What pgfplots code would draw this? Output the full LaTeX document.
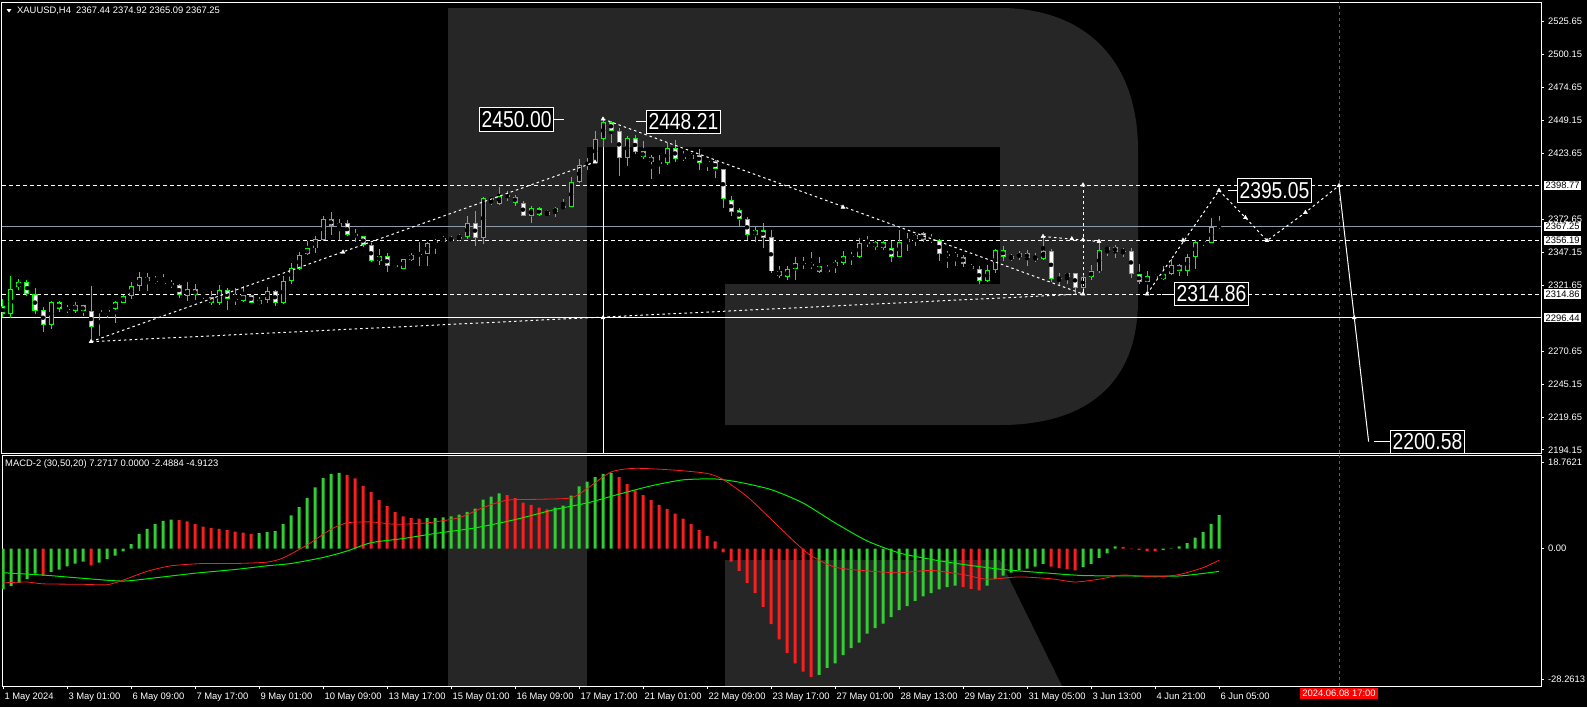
\documentclass[border=0pt]{standalone}
\usepackage{graphicx}
\usepackage{pgfplots}
\pgfplotsset{compat=1.18}
\usepackage{pgfplotstable}
\usepackage{fontspec}
\setmainfont{Liberation Sans}

\definecolor{candle}{RGB}{0,255,0}
\definecolor{histgreen}{RGB}{50,205,50}
\definecolor{histred}{RGB}{250,30,30}
\definecolor{logo}{RGB}{38,38,38}
\definecolor{bidline}{RGB}{140,155,170}
\definecolor{sigline}{RGB}{0,235,0}

\newcommand{\axfont}{\fontsize{9.4}{10.5}\selectfont}
\newcommand{\bigfont}{\fontsize{23}{24}\selectfont}

% XAUUSD H4 bars, 1 May - 6 Jun 2024
\pgfplotstableread{
i o h l c
0 2305.3 2310.9 2297.0 2299.3
1 2299.3 2329.0 2296.0 2318.7
2 2320.0 2326.4 2318.1 2324.1
3 2324.1 2325.4 2313.0 2314.8
4 2314.8 2319.4 2299.3 2301.6
5 2302.4 2304.7 2285.1 2290.6
6 2290.6 2309.1 2287.7 2308.6
7 2308.6 2309.6 2300.9 2303.2
8 2303.4 2306.5 2299.8 2302.7
9 2302.1 2308.9 2300.1 2306.5
10 2306.3 2306.5 2297.5 2301.4
11 2301.6 2321.2 2278.0 2289.3
12 2300.6 2303.4 2282.6 2302.7
13 2300.6 2303.4 2296.0 2302.4
14 2302.9 2309.4 2292.1 2308.6
15 2308.3 2314.3 2307.6 2313.2
16 2313.0 2324.3 2311.2 2321.0
17 2320.7 2332.1 2316.9 2327.9
18 2327.9 2331.0 2316.9 2324.6
19 2325.1 2329.0 2323.0 2324.3
20 2323.3 2330.5 2322.0 2323.0
21 2323.3 2325.9 2319.2 2321.5
22 2321.8 2322.5 2311.5 2314.0
23 2313.5 2324.3 2309.6 2318.7
24 2318.7 2322.8 2310.4 2313.8
25 2314.8 2316.1 2311.2 2314.3
26 2312.5 2316.9 2306.5 2307.6
27 2307.6 2321.8 2306.5 2318.1
28 2317.9 2319.4 2302.7 2310.7
29 2310.9 2319.4 2306.5 2310.4
30 2309.6 2321.2 2308.9 2314.0
31 2314.0 2314.5 2307.6 2308.3
32 2306.8 2312.2 2306.5 2310.1
33 2310.1 2320.5 2307.6 2317.4
34 2317.1 2317.6 2305.8 2307.6
35 2307.6 2329.0 2307.3 2325.1
36 2324.6 2338.8 2322.8 2334.9
37 2334.4 2347.5 2333.6 2345.0
38 2345.5 2356.0 2345.0 2350.6
39 2350.1 2359.4 2347.0 2357.3
40 2356.8 2375.4 2355.8 2373.1
41 2373.1 2378.5 2360.2 2367.6
42 2366.6 2373.3 2356.8 2369.7
43 2369.7 2371.8 2359.4 2360.4
44 2361.2 2365.3 2355.0 2359.7
45 2359.7 2359.9 2351.4 2352.7
46 2352.7 2354.2 2339.3 2340.1
47 2340.1 2349.8 2337.2 2344.4
48 2344.2 2346.5 2331.6 2336.2
49 2337.2 2339.0 2335.4 2336.7
50 2334.6 2342.1 2334.4 2341.9
51 2341.3 2346.5 2340.1 2345.2
52 2345.2 2354.8 2336.2 2346.0
53 2345.7 2355.5 2336.2 2354.2
54 2356.0 2357.3 2346.0 2354.2
55 2355.5 2359.9 2354.8 2358.1
56 2357.1 2359.4 2354.8 2357.6
57 2357.1 2361.5 2356.6 2359.1
58 2358.9 2374.9 2357.3 2369.7
59 2369.7 2379.3 2351.7 2358.1
60 2358.1 2390.3 2353.5 2389.0
61 2389.0 2389.5 2383.4 2387.5
62 2384.9 2397.5 2384.1 2391.1
63 2391.1 2394.7 2386.5 2390.6
64 2390.3 2391.6 2383.1 2385.2
65 2385.2 2386.5 2374.9 2375.1
66 2374.9 2383.1 2370.2 2381.3
67 2381.3 2382.1 2375.6 2375.9
68 2375.9 2380.0 2375.6 2378.2
69 2378.0 2382.6 2374.3 2381.3
70 2381.1 2388.5 2380.8 2383.1
71 2382.3 2405.3 2382.1 2401.7
72 2401.2 2419.7 2400.6 2414.6
73 2415.3 2420.0 2411.0 2415.9
74 2416.1 2440.9 2416.1 2434.7
75 2434.7 2450.8 2429.0 2448.2
76 2448.0 2449.0 2431.6 2441.4
77 2441.4 2443.2 2406.6 2420.0
78 2420.0 2437.5 2414.0 2435.4
79 2435.4 2438.0 2423.0 2425.1
80 2425.4 2433.1 2419.2 2420.7
81 2420.7 2422.8 2404.2 2416.9
82 2416.9 2422.5 2407.9 2416.4
83 2416.1 2432.1 2414.6 2427.7
84 2427.7 2434.1 2417.4 2419.7
85 2420.7 2425.9 2418.2 2420.2
86 2419.7 2424.3 2419.2 2422.3
87 2422.5 2426.9 2410.9 2416.6
88 2417.9 2419.2 2410.2 2417.4
89 2417.9 2418.7 2404.5 2411.5
90 2411.5 2411.7 2381.8 2388.3
91 2387.5 2390.8 2374.9 2378.2
92 2380.0 2381.3 2366.6 2372.8
93 2372.8 2374.3 2356.8 2360.2
94 2360.2 2367.1 2355.0 2364.5
95 2364.5 2369.7 2350.3 2358.6
96 2358.9 2364.5 2331.5 2332.3
97 2332.6 2336.9 2327.2 2329.0
98 2327.7 2336.2 2325.9 2334.1
99 2334.1 2343.9 2325.4 2338.8
100 2338.5 2343.4 2334.1 2339.0
101 2338.3 2347.3 2334.6 2336.2
102 2336.7 2343.7 2331.0 2332.3
103 2333.3 2337.5 2331.5 2332.8
104 2336.2 2341.3 2331.5 2339.5
105 2338.8 2348.0 2337.5 2344.4
106 2343.7 2347.5 2337.5 2344.4
107 2343.2 2358.1 2342.6 2354.7
108 2354.5 2359.4 2351.6 2355.0
109 2351.1 2356.3 2349.1 2355.0
110 2355.0 2356.3 2349.1 2350.4
111 2350.4 2356.3 2340.0 2343.9
112 2343.9 2364.5 2343.2 2355.0
113 2355.0 2362.0 2347.8 2357.3
114 2357.3 2361.4 2352.2 2360.4
115 2361.9 2362.5 2355.5 2356.3
116 2357.1 2361.4 2354.2 2356.6
117 2356.8 2357.1 2340.8 2345.7
118 2345.5 2347.8 2334.9 2345.0
119 2345.7 2347.3 2336.2 2343.9
120 2343.9 2345.2 2335.7 2338.0
121 2336.4 2338.3 2333.1 2334.1
122 2334.1 2336.7 2322.8 2324.6
123 2324.6 2337.7 2323.8 2333.6
124 2333.1 2349.6 2331.0 2349.1
125 2349.1 2352.2 2340.8 2343.9
126 2342.1 2345.7 2340.6 2344.2
127 2343.2 2348.3 2341.3 2346.5
128 2346.5 2348.6 2336.7 2342.4
129 2342.6 2347.0 2339.3 2342.1
130 2342.1 2359.4 2341.3 2348.3
131 2348.3 2349.6 2323.8 2326.6
132 2327.2 2331.0 2320.7 2326.6
133 2327.7 2331.5 2322.8 2331.0
134 2331.0 2331.5 2314.8 2319.9
135 2319.9 2331.5 2314.5 2327.9
136 2327.7 2337.2 2325.4 2332.8
137 2332.3 2354.2 2331.0 2349.1
138 2348.6 2351.4 2344.4 2351.1
139 2351.1 2352.9 2342.9 2347.3
140 2348.3 2350.4 2343.9 2347.8
141 2348.3 2350.4 2326.9 2330.3
142 2330.3 2338.3 2322.8 2323.8
143 2323.8 2332.8 2314.9 2329.0
144 2329.0 2330.3 2326.4 2327.2
145 2326.4 2336.2 2326.1 2330.5
146 2330.3 2341.9 2329.5 2337.2
147 2337.2 2338.3 2329.0 2332.8
148 2332.8 2345.7 2329.0 2343.9
149 2343.9 2356.8 2334.1 2355.3
150 2355.3 2356.8 2352.2 2355.8
151 2354.2 2373.6 2354.0 2367.1
152 2367.44 2374.92 2365.09 2367.25
}\candles

% MACD-2 histogram, g=1 rising (green), g=0 falling (red)
\pgfplotstableread{
i v g
0 -8.8 1
1 -8.1 1
2 -7.4 1
3 -6.6 1
4 -5.4 1
5 -5.9 0
6 -5.0 1
7 -4.5 1
8 -3.8 1
9 -3.2 1
10 -2.8 1
11 -3.6 0
12 -3.0 1
13 -2.2 1
14 -1.5 1
15 -0.6 1
16 1.0 1
17 3.2 1
18 4.3 1
19 5.3 1
20 6.0 1
21 6.3 1
22 6.2 0
23 5.9 0
24 5.3 0
25 4.8 0
26 4.5 0
27 4.3 0
28 4.0 0
29 3.7 0
30 3.5 0
31 3.2 0
32 3.4 1
33 3.6 1
34 3.8 1
35 5.3 1
36 7.2 1
37 9.0 1
38 11.0 1
39 13.3 1
40 15.3 1
41 16.2 1
42 16.4 1
43 16.0 0
44 15.2 0
45 13.6 0
46 12.3 0
47 10.5 0
48 9.2 0
49 7.9 0
50 7.0 0
51 6.6 0
52 6.5 0
53 6.6 1
54 6.7 1
55 6.8 1
56 7.0 1
57 7.4 1
58 8.0 1
59 8.7 1
60 10.6 1
61 11.3 1
62 12.0 1
63 11.6 0
64 11.0 0
65 10.0 0
66 9.5 0
67 8.9 0
68 8.5 0
69 8.9 1
70 9.3 1
71 11.5 1
72 13.5 1
73 14.5 1
74 15.5 1
75 16.2 1
76 16.4 1
77 15.5 0
78 14.0 0
79 12.6 0
80 11.6 0
81 10.5 0
82 9.5 0
83 8.6 0
84 7.6 0
85 6.5 0
86 5.3 0
87 4.0 0
88 2.8 0
89 1.6 0
90 -0.8 0
91 -2.8 0
92 -4.8 0
93 -7.4 0
94 -9.6 0
95 -12.6 0
96 -16.3 0
97 -19.6 0
98 -22.6 0
99 -24.8 0
100 -26.6 0
101 -27.8 0
102 -27.3 1
103 -25.8 1
104 -24.8 1
105 -23.0 1
106 -21.5 1
107 -20.3 1
108 -18.4 1
109 -17.2 1
110 -16.2 1
111 -14.8 1
112 -13.3 1
113 -12.4 1
114 -11.3 1
115 -10.3 1
116 -9.6 1
117 -8.8 1
118 -8.3 1
119 -8.0 1
120 -8.3 0
121 -8.7 0
122 -9.0 0
123 -8.0 1
124 -6.6 1
125 -5.8 1
126 -5.2 1
127 -4.6 1
128 -4.3 1
129 -3.9 1
130 -3.3 1
131 -3.9 0
132 -4.2 0
133 -4.4 0
134 -4.7 0
135 -4.0 1
136 -3.3 1
137 -2.0 1
138 -1.0 1
139 0.5 1
140 0.4 0
141 0.1 0
142 -0.3 0
143 -0.5 0
144 -0.6 0
145 -0.3 1
146 0.1 1
147 0.5 1
148 1.2 1
149 2.4 1
150 3.6 1
151 5.4 1
152 7.2717 1
}\macdhist

\pgfplotstableread{
i v
0 -7.4
3 -7.2
5 -7.6
10 -7.7
13 -7.8
15 -6.8
18 -4.9
21 -3.7
25 -3.2
29 -3.2
33 -2.9
35 -2.0
38 0.8
41 4.2
43 5.6
46 5.8
49 5.3
53 5.6
57 6.7
60 8.9
63 10.5
67 10.7
71 11.0
73 13.0
76 16.6
79 17.4
84 17.0
88 16.3
90 15.0
93 11.3
96 6.4
99 1.4
101 -1.5
104 -4.0
108 -4.8
112 -5.2
116 -4.7
120 -5.6
123 -6.6
127 -6.1
131 -6.5
134 -7.2
137 -6.6
140 -5.7
144 -6.1
147 -5.6
150 -4.1
152 -2.4884
}\macdline

\pgfplotstableread{
i v
0 -5.2
5 -5.7
10 -6.4
15 -7.0
19 -6.3
24 -5.3
29 -4.5
33 -3.7
36 -3.2
40 -1.9
43 -0.5
46 1.3
50 2.2
54 3.3
59 4.5
64 6.3
69 8.5
73 9.9
77 11.8
81 13.6
85 14.9
89 15.1
92 14.4
96 12.8
100 9.9
104 5.6
108 1.7
112 -0.9
116 -2.3
120 -3.4
125 -4.5
130 -5.2
135 -5.8
141 -5.9
147 -5.9
152 -4.9123
}\signalline

\tikzset{
  lvl/.style={draw=white, line width=1pt, dash pattern=on 4pt off 3pt},
  proj/.style={draw=white, line width=1pt, dash pattern=on 2.5pt off 3pt},
  bigbox/.style={draw=white, line width=1pt, fill=black, text=white, font=\bigfont,
    inner xsep=2pt, inner ysep=3.5pt},
  pricebox/.style={fill=white, text=black, font=\axfont, inner xsep=1.5pt,
    inner ysep=1.3pt, anchor=west},
}
\pgfplotsset{
  pivots/.style={only marks, mark=triangle*, mark size=2.3pt,
    mark options={white, solid, draw=white, fill=white}},
}

\begin{document}
\begin{tikzpicture}[x=1pt,y=1pt]
\fill[black] (0,0) rectangle (1587,-707);

% watermark logo
\fill[logo] (448,-8) rectangle (587,-453);
\fill[logo] (448,-455) rectangle (587,-686);
\fill[logo] (587,-8) -- (1000,-8) .. controls (1085,-8) and (1138,-60) .. (1138,-150)
  -- (1138,-300) .. controls (1138,-385) and (1085,-425) .. (1000,-425)
  -- (725,-425) -- (725,-284) -- (1000,-284) -- (1000,-147) -- (587,-147) -- cycle;
\fill[logo] (725,-560) -- (1000,-560) -- (1062,-686) -- (725,-686) -- cycle;

% ---------- price panel ----------
\begin{axis}[
  at={(2pt,-453pt)}, anchor=south west, scale only axis,
  width=1539pt, height=451pt,
  xmin=-0.125, xmax=192.25, ymin=2191.8, ymax=2540.9,
  axis line style={white, line width=1pt},
  xtick=\empty,
  ytick={2194.15,2219.65,2245.15,2270.65,2321.65,2347.15,2372.65,2423.65,2449.15,2474.65,2500.15,2525.65},
  yticklabels={2194.15,2219.65,2245.15,2270.65,2321.65,2347.15,2372.65,2423.65,2449.15,2474.65,2500.15,2525.65},
  ytick pos=right, yticklabel pos=right,
  tick align=outside, major tick length=3pt,
  tick style={white, line width=1pt},
  yticklabel style={font=\axfont, text=white, xshift=0.5pt},
  clip mode=individual,
]
% horizontal levels
\addplot[lvl, forget plot] coordinates {(-0.125,2398.77) (192.25,2398.77)};
\addplot[lvl, forget plot] coordinates {(-0.125,2356.19) (192.25,2356.19)};
\addplot[lvl, forget plot] coordinates {(-0.125,2314.86) (192.25,2314.86)};
\addplot[draw=bidline, line width=1pt, forget plot] coordinates {(-0.125,2367.25) (192.25,2367.25)};
\addplot[draw=white, line width=1pt, forget plot] coordinates {(-0.125,2296.44) (192.25,2296.44)};
% vertical markers
\addplot[draw=white, line width=1pt, forget plot] coordinates {(75,2429.0) (75,2191.8)};
\addplot[draw=histred, line width=1pt, dash pattern=on 3pt off 3pt, forget plot] coordinates {(167,2191.8) (167,2540.9)};

% candles: wicks
\addplot[only marks, mark=none, forget plot,
  error bars/.cd, y dir=both, y explicit, error mark=none,
  error bar style={draw=candle, line width=1pt}]
  table[x=i, y expr={(\thisrow{h}+\thisrow{l})/2}, y error expr={(\thisrow{h}-\thisrow{l})/2}] {\candles};
% candles: body outline
\addplot[only marks, mark=none, forget plot,
  error bars/.cd, y dir=both, y explicit, error mark=none,
  error bar style={draw=candle, line width=5pt}]
  table[x=i, y expr={(\thisrow{o}+\thisrow{c})/2}, y error expr={max(abs(\thisrow{c}-\thisrow{o})/2,0.39)}] {\candles};
% candles: rising body interior
\addplot[only marks, mark=none, forget plot,
  restrict expr to domain={\thisrow{c}-\thisrow{o}}{1.6:1000},
  error bars/.cd, y dir=both, y explicit, error mark=none,
  error bar style={draw=black, line width=3pt}]
  table[x=i, y expr={(\thisrow{o}+\thisrow{c})/2}, y error expr={abs(\thisrow{c}-\thisrow{o})/2-0.77}] {\candles};
% candles: falling body interior
\addplot[only marks, mark=none, forget plot,
  restrict expr to domain={\thisrow{o}-\thisrow{c}}{1.6:1000},
  error bars/.cd, y dir=both, y explicit, error mark=none,
  error bar style={draw=white, line width=3pt}]
  table[x=i, y expr={(\thisrow{o}+\thisrow{c})/2}, y error expr={abs(\thisrow{c}-\thisrow{o})/2-0.77}] {\candles};

% trend lines and projection
\addplot[proj, forget plot] coordinates {(11,2278) (74,2417)};
\addplot[proj, forget plot] coordinates {(11,2278) (135,2314.86)};
\addplot[proj, forget plot] coordinates {(75,2450.3) (135,2314.86)};
\addplot[proj, forget plot] coordinates {(130,2359.4) (137,2355.5)};
\addplot[proj, forget plot] coordinates {(135,2399.3) (135,2314.86)};
\addplot[proj, forget plot] coordinates {(143,2314.86) (152,2395.05)};
\addplot[proj, forget plot] coordinates {(152,2395.05) (155.3,2374) (158,2356.19) (162.8,2378) (167,2398.77)};
\addplot[draw=white, line width=1pt, forget plot] coordinates {(167,2398.77) (170.7,2200.58)};
\addplot[pivots, forget plot] coordinates {
  (11,2278) (42.5,2347.3) (74,2417) (75,2296.44) (75,2450.3) (105,2382.1)
  (130,2359.4) (133.6,2357.6) (137,2355.5) (135,2399.3) (135,2356.8) (135,2314.86)
  (143,2314.86) (147.5,2356.5) (152,2395.05) (155.3,2374) (158,2356.19)
  (162.8,2378) (167,2398.77) (168.9,2296.44)};

% price callouts
\draw[white, line width=1pt] (axis cs:68.875,2450.00) -- (axis cs:70.125,2450.00);
\node[bigbox, anchor=east] at (axis cs:68.875,2450.00) {\scalebox{0.84}[1]{2450.00}};
\draw[white, line width=1pt] (axis cs:79.125,2448.21) -- (axis cs:80.375,2448.21);
\node[bigbox, anchor=west] at (axis cs:80.375,2448.21) {\scalebox{0.84}[1]{2448.21}};
\draw[white, line width=1pt] (axis cs:153.125,2395.05) -- (axis cs:154.25,2395.05);
\node[bigbox, anchor=west] at (axis cs:154.25,2395.05) {\scalebox{0.84}[1]{2395.05}};
\draw[white, line width=1pt] (axis cs:144.875,2314.86) -- (axis cs:146.375,2314.86);
\node[bigbox, anchor=west] at (axis cs:146.375,2314.86) {\scalebox{0.84}[1]{2314.86}};
\draw[white, line width=1pt] (axis cs:171.375,2200.58) -- (axis cs:173.375,2200.58);
\node[bigbox, anchor=west] at (axis cs:173.375,2200.58) {\scalebox{0.84}[1]{2200.58}};

\coordinate (lv1) at (axis cs:192.25,2398.77);
\coordinate (lv2) at (axis cs:192.25,2367.25);
\coordinate (lv3) at (axis cs:192.25,2356.19);
\coordinate (lv4) at (axis cs:192.25,2314.86);
\coordinate (lv5) at (axis cs:192.25,2296.44);
\end{axis}

\node[pricebox] at ([xshift=3pt]lv1) {2398.77};
\node[pricebox] at ([xshift=3pt]lv2) {2367.25};
\node[pricebox] at ([xshift=3pt]lv3) {2356.19};
\node[pricebox] at ([xshift=3pt]lv4) {2314.86};
\node[pricebox] at ([xshift=3pt]lv5) {2296.44};

% symbol header
\fill[white] (6.5,-9) -- (11.5,-9) -- (9,-12.5) -- cycle;
\node[anchor=west, inner sep=0pt, text=white, font=\axfont] at (17,-11)
  {XAUUSD,H4\ \ 2367.44 2374.92 2365.09 2367.25};

% ---------- MACD panel ----------
\begin{axis}[
  at={(2pt,-686pt)}, anchor=south west, scale only axis,
  width=1539pt, height=231pt,
  xmin=-0.125, xmax=192.25, ymin=-29.71, ymax=20.28,
  axis line style={white, line width=1pt},
  xtick={0,8,...,152},
  xticklabels={1 May 2024,3 May 01:00,6 May 09:00,7 May 17:00,9 May 01:00,10 May 09:00,13 May 17:00,15 May 01:00,16 May 09:00,17 May 17:00,21 May 01:00,22 May 09:00,23 May 17:00,27 May 01:00,28 May 13:00,29 May 21:00,31 May 05:00,3 Jun 13:00,4 Jun 21:00,6 Jun 05:00},
  xtick pos=left,
  ytick={-28.2613,0,18.7621},
  yticklabels={-28.2613,0.00,18.7621},
  ytick pos=right, yticklabel pos=right,
  tick align=outside, major tick length=3pt,
  tick style={white, line width=1pt},
  yticklabel style={font=\axfont, text=white, xshift=0.5pt},
  xticklabel style={font=\axfont, text=white, anchor=north west, xshift=-2pt, yshift=-0.5pt},
  clip mode=individual,
]
\addplot[ybar, bar width=3pt, bar shift=0pt, fill=histgreen, draw=none, forget plot,
  restrict expr to domain={\thisrow{g}}{0.5:1.5}] table[x=i, y=v] {\macdhist};
\addplot[ybar, bar width=3pt, bar shift=0pt, fill=histred, draw=none, forget plot,
  restrict expr to domain={\thisrow{g}}{-0.5:0.5}] table[x=i, y=v] {\macdhist};
\addplot[draw=sigline, line width=1pt, smooth, tension=0.4, mark=none, forget plot] table[x=i, y=v] {\signalline};
\addplot[draw=histred, line width=0.8pt, smooth, tension=0.4, mark=none, forget plot] table[x=i, y=v] {\macdline};
\addplot[draw=histred, line width=1pt, dash pattern=on 3pt off 3pt, forget plot] coordinates {(167,-29.71) (167,20.28)};
\node[fill=red, text=white, font=\axfont, inner xsep=2pt, inner ysep=2pt, anchor=north]
  at ([yshift=-2pt]axis cs:167,-29.71) {2024.06.08 17:00};
\end{axis}

\node[anchor=west, inner sep=0pt, text=white, font=\axfont] at (5,-464.5)
  {MACD-2 (30,50,20) 7.2717 0.0000 -2.4884 -4.9123};

\pgfresetboundingbox
\path[use as bounding box] (0,0) rectangle (1587,-707);
\end{tikzpicture}
\end{document}
